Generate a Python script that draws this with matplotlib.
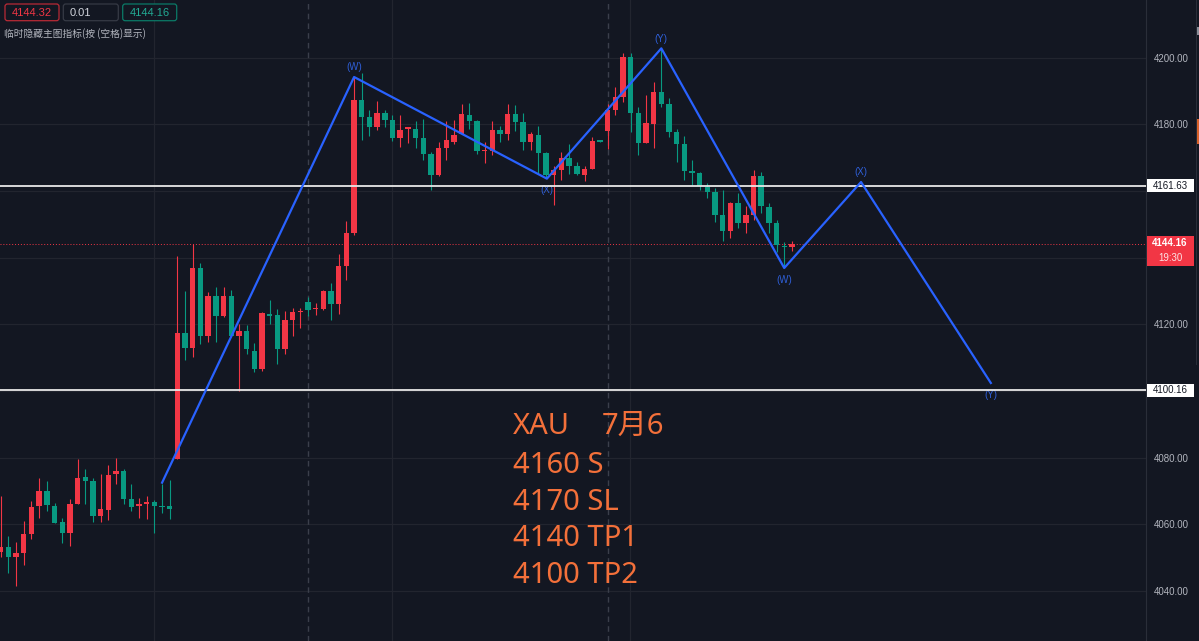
import matplotlib
matplotlib.use("Agg")
import matplotlib.pyplot as plt
import matplotlib.transforms as mtransforms
from matplotlib.patches import Rectangle, FancyBboxPatch

plt.rcParams['font.family'] = ['Liberation Sans', 'Noto Sans CJK SC', 'DejaVu Sans']

W, H = 1199, 641
BG = "#131722"
GRID = "#22252f"
UP = "#f23645"
DOWN = "#089981"
WAVE = "#2962ff"
NOTE = "#f3703a"

# OHLC (red = up, green = down)
opens = [4051.8, 4053.3, 4050.1, 4051.5, 4057.1, 4065.5, 4070.0, 4065.6, 4060.7, 4057.3,
         4066.1, 4074.2, 4073.0, 4062.5, 4064.2, 4075.1, 4076.0, 4067.6, 4065.4, 4066.2,
         4066.8, 4065.5, 4065.4, 4079.7, 4117.3, 4113.0, 4137.0, 4116.5, 4128.6, 4122.5,
         4128.6, 4116.5, 4117.9, 4112.0, 4106.6, 4123.0, 4122.8, 4112.5, 4121.3, 4123.6,
         4126.6, 4124.6, 4124.5, 4129.9, 4126.2, 4137.5, 4147.5, 4187.4, 4182.2, 4179.2,
         4183.4, 4181.2, 4175.9, 4178.7, 4178.7, 4175.9, 4171.0, 4164.7, 4173.0, 4174.6,
         4177.2, 4182.7, 4180.9, 4171.9, 4172.0, 4178.4, 4177.0, 4183.0, 4180.7, 4174.7,
         4176.7, 4171.4, 4164.7, 4166.2, 4169.9, 4167.4, 4164.7, 4166.7, 4175.0, 4178.0,
         4184.4, 4188.3, 4200.3, 4183.3, 4174.5, 4180.0, 4189.7, 4186.1, 4177.8, 4174.1,
         4165.8, 4165.3, 4161.3, 4159.8, 4152.8, 4148.0, 4156.3, 4150.5, 4152.8, 4164.5,
         4155.3, 4150.5, 4143.5, 4143.3]
highs = [4068.5, 4056.5, 4054.7, 4061.0, 4067.1, 4074.0, 4072.9, 4066.3, 4061.8, 4067.6,
         4079.5, 4076.7, 4074.0, 4075.2, 4077.7, 4079.9, 4076.7, 4072.0, 4067.8, 4068.5,
         4067.3, 4072.2, 4073.2, 4140.5, 4129.9, 4144.0, 4138.5, 4129.7, 4131.2, 4131.2,
         4130.4, 4120.1, 4119.8, 4114.4, 4123.8, 4127.2, 4124.5, 4124.0, 4124.8, 4124.8,
         4128.2, 4126.4, 4130.4, 4132.4, 4141.0, 4151.0, 4194.2, 4195.4, 4184.2, 4186.9,
         4184.4, 4182.7, 4182.7, 4179.0, 4180.9, 4181.7, 4171.7, 4174.7, 4181.0, 4181.4,
         4186.2, 4186.4, 4181.4, 4174.7, 4180.9, 4179.6, 4186.0, 4185.7, 4183.4, 4177.7,
         4179.4, 4171.7, 4167.4, 4171.7, 4174.2, 4168.7, 4167.4, 4176.2, 4175.1, 4186.2,
         4191.2, 4201.5, 4201.5, 4185.1, 4188.8, 4192.8, 4202.8, 4187.8, 4178.5, 4176.5,
         4169.3, 4165.8, 4162.3, 4160.8, 4160.3, 4156.8, 4159.3, 4155.5, 4166.3, 4165.8,
         4156.3, 4151.3, 4144.8, 4145.1]
lows = [4050.1, 4045.4, 4041.4, 4047.9, 4055.5, 4062.0, 4064.1, 4060.3, 4054.5, 4053.5,
        4066.0, 4066.1, 4060.8, 4060.8, 4061.3, 4072.0, 4066.1, 4064.1, 4062.0, 4061.5,
        4057.5, 4063.5, 4061.5, 4079.7, 4109.2, 4110.2, 4114.0, 4114.7, 4114.7, 4122.3,
        4116.3, 4100.1, 4111.2, 4105.7, 4106.0, 4120.1, 4108.2, 4111.0, 4116.5, 4118.8,
        4122.5, 4122.8, 4124.3, 4121.3, 4123.1, 4133.3, 4146.8, 4175.2, 4176.4, 4178.2,
        4179.2, 4175.0, 4173.2, 4174.4, 4173.0, 4169.2, 4160.4, 4164.5, 4169.4, 4174.0,
        4177.0, 4178.7, 4171.2, 4168.4, 4170.7, 4174.7, 4175.4, 4178.0, 4172.2, 4172.2,
        4165.2, 4164.0, 4155.7, 4163.4, 4165.2, 4164.7, 4163.0, 4166.5, 4174.6, 4172.7,
        4182.9, 4186.8, 4177.8, 4170.8, 4174.3, 4172.8, 4185.3, 4176.1, 4168.8, 4163.3,
        4161.8, 4160.3, 4157.8, 4150.8, 4145.1, 4145.8, 4148.8, 4147.3, 4151.3, 4153.5,
        4147.3, 4141.8, 4136.8, 4142.1]
closes = [4053.3, 4050.3, 4051.5, 4057.1, 4065.3, 4070.0, 4065.7, 4060.5, 4057.3, 4066.1,
          4074.0, 4073.0, 4062.5, 4064.6, 4074.7, 4076.0, 4067.6, 4065.1, 4066.1, 4066.4,
          4065.4, 4065.1, 4064.7, 4117.3, 4113.0, 4137.0, 4116.5, 4128.6, 4122.5, 4128.4,
          4116.5, 4118.1, 4112.5, 4106.6, 4123.3, 4122.5, 4112.5, 4121.3, 4123.8, 4124.1,
          4124.3, 4124.7, 4129.9, 4126.2, 4137.5, 4147.5, 4187.4, 4182.2, 4179.2, 4183.4,
          4181.2, 4175.9, 4178.4, 4178.9, 4175.9, 4171.0, 4164.7, 4173.0, 4175.2, 4176.7,
          4183.2, 4180.9, 4172.0, 4172.1, 4178.4, 4177.0, 4183.0, 4180.7, 4174.7, 4177.0,
          4171.4, 4164.7, 4166.2, 4169.9, 4167.4, 4165.2, 4166.7, 4174.9, 4174.8, 4184.4,
          4188.2, 4200.3, 4183.5, 4174.5, 4180.3, 4189.7, 4186.1, 4177.8, 4174.1, 4166.1,
          4165.5, 4161.5, 4159.8, 4152.8, 4148.0, 4156.5, 4150.3, 4152.8, 4164.5, 4155.6,
          4150.5, 4143.8, 4143.1, 4144.16]

# W-X-Y wave drawing (bar index, price)
wave_x = [21, 46, 71.1, 86, 102, 112, 128.9]
wave_y = [4072.5, 4194.2, 4163.7, 4202.8, 4136.9, 4162.7, 4102.4]
wave_labels = ["", "(W)", "(X)", "(Y)", "(W)", "(X)", "(Y)"]
label_above = [True, True, False, True, False, True, False]

levels = [4161.63, 4100.16]
last_price = 4144.16
countdown = "19:30"
price_ticks = [4040, 4060, 4080, 4120, 4180, 4200]
grid_prices = [4040, 4060, 4080, 4100, 4120, 4140, 4160, 4180, 4200]
grid_bars = [19.9, 50.9, 81.9]
session_bars = [40.0, 79.0]

note_title = ["XAU", "7月6"]
note_lines = ["4160 S", "4170 SL", "4140 TP1", "4100 TP2"]

header_vals = ["4144.32", "0.01", "4144.16"]
header_hint = "临时隐藏主图指标(按 (空格)显示)"

fig = plt.figure(figsize=(W / 100, H / 100), dpi=100, facecolor=BG)
ax = fig.add_axes([0, 0, 1146 / W, 1], facecolor=BG)
ax.set_xlim(-0.1, 149.1)
ax.set_ylim(4025.0, 4217.3)

for p in grid_prices:
    ax.axhline(p, color=GRID, lw=0.9, zorder=0)
for b in grid_bars:
    ax.axvline(b, color=GRID, lw=0.9, zorder=0)
for b in session_bars:
    ax.axvline(b, color="#3b3f4b", lw=1.0, ls=(0, (4, 3)), zorder=0)

# candles
for i in range(len(opens)):
    o, h, l, c = opens[i], highs[i], lows[i], closes[i]
    col = UP if c >= o else DOWN
    ax.vlines(i, l, h, color=col, lw=0.8, zorder=2)
    ax.bar(i, max(abs(c - o), 0.35), bottom=min(o, c), width=0.7, color=col, zorder=3)

# levels
for lv in levels:
    ax.axhline(lv, color="#e8e8e8", lw=1.3, zorder=4)
ax.axhline(last_price, color=UP, lw=0.7, ls=(0, (1, 2)), zorder=1)

# waves
ax.plot(wave_x, wave_y, color=WAVE, lw=1.6, zorder=5)
for x, y, lbl, up in zip(wave_x, wave_y, wave_labels, label_above):
    if lbl:
        ax.annotate(lbl, (x, y), xytext=(0, 7 if up else -8.5), textcoords="offset points",
                    ha="center", va="center", color="#2f5fd8", fontsize=7)

# note text
fx = lambda px: px / W
fy = lambda py: 1 - py / H
note_font = ['Noto Sans', 'Noto Sans CJK SC']
fig.text(fx(513), fy(433.5), note_title[0], color=NOTE, fontsize=21, family=note_font, va="baseline")
fig.text(fx(602), fy(433.5), note_title[1], color=NOTE, fontsize=21, family=note_font, va="baseline")
for k, line in enumerate(note_lines):
    fig.text(fx(513), fy(472.7 + k * 36.9), line, color=NOTE, fontsize=21,
             family=note_font, va="baseline")

# price scale
ax.yaxis.tick_right()
ax.set_yticks(price_ticks)
ax.set_yticklabels([f"{v:.2f}" for v in price_ticks])
ax.tick_params(axis="y", length=0, pad=5.5, labelsize=7, labelcolor="#b2b5be")
ax.set_xticks([])
for s in ["top", "left", "bottom"]:
    ax.spines[s].set_visible(False)
ax.spines["right"].set_color("#2a2e39")

trans = mtransforms.blended_transform_factory(ax.transAxes, ax.transData)
bx0 = 1 + 0.7 / 1146
bw = 47.5 / 1146
for lv in levels:
    ax.add_patch(Rectangle((bx0, lv - 2.05), bw, 4.1, transform=trans, clip_on=False,
                           facecolor="#ffffff", edgecolor="none", zorder=10))
    ax.text(1 + 24 / 1146, lv, f"{lv:.2f}", transform=trans, ha="center", va="center",
            fontsize=7, color="#131722", zorder=11, clip_on=False)
ax.add_patch(Rectangle((bx0, 4137.56), bw, 8.8, transform=trans, clip_on=False,
                       facecolor=UP, edgecolor="none", zorder=10))
ax.text(1 + 24 / 1146, 4144.25, f"{last_price:.2f}", transform=trans, ha="center", va="center",
        fontsize=7, color="#ffffff", fontweight="bold", zorder=11, clip_on=False)
ax.text(1 + 24 / 1146, 4139.9, countdown, transform=trans, ha="center", va="center",
        fontsize=7, color="#fde2e4", zorder=11, clip_on=False)

# right edge strip
ident = mtransforms.IdentityTransform()
fig.add_artist(Rectangle((1196.3, H - 365), 0.8, 365, transform=ident, facecolor="#2a2e39", edgecolor="none"))
fig.add_artist(Rectangle((1196.8, H - 143.8), 2.5, 24.9, transform=ident, facecolor="#d9622b", edgecolor="none"))
fig.add_artist(Rectangle((1196.8, H - 35), 2.5, 8.3, transform=ident, facecolor="#8a8e99", edgecolor="none"))

# header boxes
boxes = [(5, 59, "#b92a36", UP, "center"),
         (63.3, 118.3, "#363a45", "#d1d4dc", "left"),
         (122.7, 176.7, "#0b7a67", "#22ab94", "center")]
for (x0, x1, ec, tc, ha), val in zip(boxes, header_vals):
    fig.add_artist(FancyBboxPatch((x0, H - 20.7), x1 - x0, 16.7, transform=ident,
                                  boxstyle="round,pad=0,rounding_size=2.5",
                                  facecolor=BG, edgecolor=ec, lw=0.9))
    tx = (x0 + x1) / 2 if ha == "center" else x0 + 6
    fig.text(fx(tx), fy(12.6), val, color=tc, fontsize=8, ha=ha, va="center")
fig.text(fx(4.5), fy(33.5), header_hint, color="#b2b5be", fontsize=7,
         family=['Noto Sans CJK SC', 'DejaVu Sans'], va="center")

fig.savefig("out.png", dpi=100, facecolor=BG)
